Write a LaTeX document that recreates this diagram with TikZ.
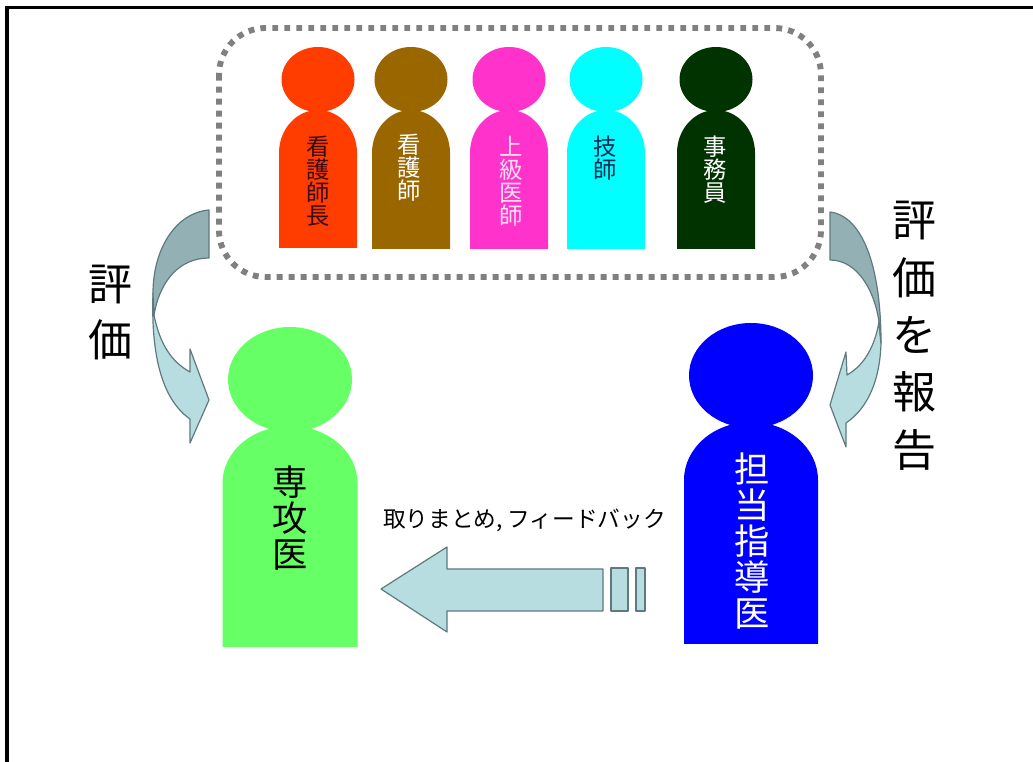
\documentclass[tikz,border=0pt]{standalone}
\usepackage{fontspec}
\setmainfont{Noto Sans CJK JP}
\definecolor{arrowlight}{HTML}{B7DDE0}
\definecolor{arrowdark}{HTML}{93B0B4}
\definecolor{arrowedge}{HTML}{5F7A7E}
\definecolor{dotgray}{HTML}{808080}
\definecolor{pred}{HTML}{FF3D00}
\definecolor{pbrown}{HTML}{996600}
\definecolor{ppink}{HTML}{FF33CC}
\definecolor{pcyan}{HTML}{00FFFF}
\definecolor{pdark}{HTML}{003300}
\definecolor{pgreen}{HTML}{66FF66}
\definecolor{pblue}{HTML}{0000FF}
\definecolor{tdarkred}{HTML}{3A0A12}
\definecolor{tnavy}{HTML}{0A2A50}
\definecolor{tpink}{HTML}{FFE0F6}
\tikzset{
  x=0.75pt,y=-0.75pt,
  vlabel/.style={align=center,inner sep=0pt,anchor=north},
  smalllabel/.style={vlabel,font=\fontsize{17.5}{17.2}\selectfont},
  midlabel/.style={vlabel,font=\fontsize{26.5}{27}\selectfont},
  arrowshape/.style={draw=arrowedge,line width=0.9pt,line join=round},
}
% #1 colour, #2 cx, #3 body half width, #4 head rx, #5 head ry, #6 head cy, #7 body top, #8 shoulder y, #9 bottom
\newcommand{\personshape}[9]{%
  \fill[#1] (#2,#6) ellipse [x radius=#4, y radius=#5];
  \fill[#1] (#2-#3,#9) -- (#2-#3,#8)
    .. controls (#2-#3,#8-0.5523*#8+0.5523*#7) and (#2-0.5523*#3,#7) .. (#2,#7)
    .. controls (#2+0.5523*#3,#7) and (#2+#3,#8-0.5523*#8+0.5523*#7) .. (#2+#3,#8)
    -- (#2+#3,#9) -- cycle;
}
\begin{document}
\begin{tikzpicture}
\useasboundingbox (0,0) rectangle (1033,762);
\fill[white] (0,0) rectangle (1033,762);
\draw[black,line width=2.7pt] (6.7,780) -- (6.7,7.5) -- (1040,7.5);

\draw[dotgray,line width=4.4pt,dash pattern=on 4.4pt off 4.6pt,rounded corners=35pt]
  (219,28) rectangle (821,277);

\personshape{pred}{318}{39}{36.5}{32.5}{79.5}{110}{153}{248}
\personshape{pbrown}{411}{39}{36.5}{32.5}{79.5}{110}{153}{249}
\personshape{ppink}{509}{39}{36.5}{32.5}{79.5}{110}{153}{249}
\personshape{pcyan}{606}{39}{36.5}{32.5}{79.5}{110}{153}{249}
\personshape{pdark}{716}{39}{36.5}{32.5}{79.5}{110}{153}{249}
\personshape{pgreen}{290}{67.5}{62}{52.5}{379.5}{426}{483}{647}
\personshape{pblue}{751}{67}{62}{52.5}{375.5}{422}{480}{644}

\node[smalllabel,text=tdarkred] (ta) at (318,136) {看\\護\\師\\長};
\node[smalllabel,text=white] (tb) at (409,134) {看\\護\\師};
\node[smalllabel,text=tpink] (tc) at (511,136) {上\\級\\医\\師};
\node[smalllabel,text=tnavy] (td) at (605,136) {技\\師};
\node[smalllabel,text=white] (te) at (715,136) {事\\務\\員};
\node[midlabel,text=black] (tf) at (290,466) {専\\攻\\医};
\node[midlabel,text=white] (tg) at (752,453) {担\\当\\指\\導\\医};
\node[vlabel,font=\fontsize{33}{42}\selectfont,text=black] (th) at (110,265) {評\\価};
\node[vlabel,font=\fontsize{33}{43}\selectfont,text=black] (ti) at (914,201) {評\\価\\を\\報\\告};
\node[inner sep=0pt,font=\fontsize{17}{20}\selectfont,text=black] (tj) at (524.5,520) {取りまとめ, フィードバック};

% left curved arrow
\draw[arrowshape,fill=arrowlight]
  (153,293) .. controls (151,350) and (160,398) .. (190,419)
  -- (190,443) -- (209,400) -- (190,349) -- (190,372)
  .. controls (172,362) and (160,345) .. (154,315) -- cycle;
\draw[arrowshape,fill=arrowdark]
  (209,210) .. controls (175,213) and (153,250) .. (153,293) -- (154,315)
  .. controls (160,280) and (180,258) .. (209,258) -- cycle;
% right curved arrow
\draw[arrowshape,fill=arrowlight]
  (881,343) .. controls (880,380) and (868,408) .. (846,423)
  -- (846,447) -- (830,405) -- (846,352) -- (847,375)
  .. controls (865,365) and (875,345) .. (879,322) -- cycle;
\draw[arrowshape,fill=arrowdark]
  (830,212) .. controls (862,216) and (881,265) .. (881,343) -- (879,322)
  .. controls (875,292) and (858,260) .. (830,260) -- cycle;

% straight striped arrow
\draw[arrowshape,fill=arrowlight]
  (381,589) -- (447,547) -- (447,569) -- (603,569) -- (603,611) -- (447,611) -- (447,632) -- cycle;
\draw[arrowshape,fill=arrowlight] (611,568) rectangle (628,611);
\draw[arrowshape,fill=arrowlight] (636,568) rectangle (645,611);
\end{tikzpicture}
\end{document}
